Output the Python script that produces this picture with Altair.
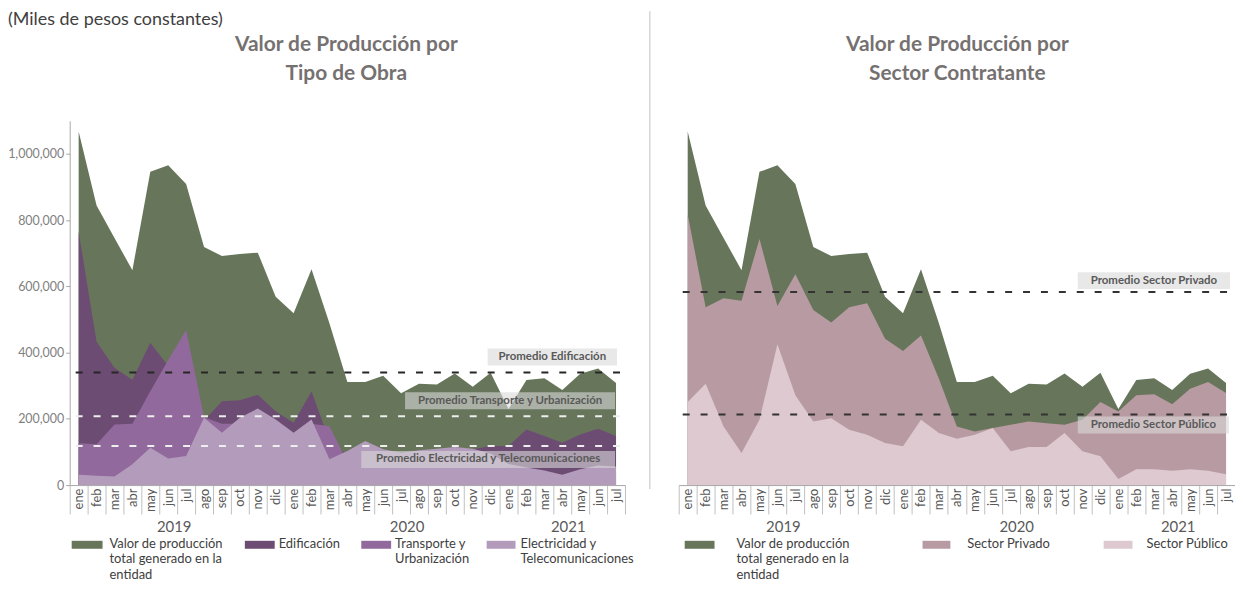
import altair as alt
import pandas as pd

# ---------------- data ----------------
meses = ["ene", "feb", "mar", "abr", "may", "jun", "jul", "ago", "sep", "oct", "nov", "dic"]
anios = ["2019", "2020", "2021"]
meses_por_anio = [12, 12, 7]
periodos = [f"{m} {a}" for a, n in zip(anios, meses_por_anio) for m in meses[:n]]
anclas_anio = ["jul 2019", "ago 2020", "may 2021"]

total = [1068000, 844000, 746000, 649000, 946000, 966000, 909000, 719000, 692000, 698000, 702000, 569000,
         519000, 652000, 489000, 311000, 311000, 330000, 277000, 306000, 304000, 337000, 297000, 339000,
         230000, 317000, 323000, 287000, 336000, 352000, 308000]
edificacion = [765000, 433000, 354000, 318000, 430000, 360000, 300000, 195000, 253000, 256000, 273000, 223000,
               188000, 283000, 132000, 90000, 95000, 95000, 95000, 100000, 105000, 112000, 108000, 118000,
               118000, 168000, 148000, 128000, 153000, 170000, 148000]
transporte = [126000, 123000, 183000, 185000, 283000, 378000, 468000, 205000, 185000, 185000, 215000, 170000,
              140000, 185000, 178000, 70000, 75000, 70000, 65000, 70000, 75000, 80000, 80000, 85000,
              50000, 40000, 35000, 22000, 30000, 40000, 38000]
electricidad = [31000, 28000, 26000, 63000, 113000, 80000, 88000, 203000, 158000, 203000, 231000, 198000,
                158000, 198000, 78000, 103000, 133000, 108000, 98000, 105000, 110000, 115000, 110000, 95000,
                64000, 53000, 44000, 31000, 48000, 59000, 56000]
privado = [817000, 537000, 564000, 557000, 743000, 541000, 637000, 529000, 491000, 537000, 549000, 442000,
           405000, 452000, 321000, 177000, 162000, 172000, 182000, 192000, 187000, 182000, 197000, 251000,
           222000, 271000, 274000, 244000, 291000, 311000, 278000]
publico = [251000, 306000, 177000, 97000, 197000, 425000, 271000, 192000, 202000, 167000, 152000, 127000,
           117000, 197000, 157000, 140000, 152000, 172000, 102000, 115000, 115000, 157000, 102000, 87000,
           18000, 48000, 48000, 43000, 48000, 43000, 33000]

prom_edificacion = 340000
prom_transporte = 208000
prom_electricidad = 118000
prom_privado = 583000
prom_publico = 213000

df = pd.DataFrame({
    "periodo": periodos, "total": total, "edificacion": edificacion, "transporte": transporte,
    "electricidad": electricidad, "privado": privado, "publico": publico,
})
df_anios = pd.DataFrame({"anio": anios, "ancla": anclas_anio})
uno = pd.DataFrame({"k": [0]})

# ---------------- style ----------------
FONT = "Lato"
W, H = 1171, 366
RANGO_IZQ = [0, 558]
RANGO_DER = [612, 1171]

C_TOTAL = "#67765b"
C_EDIF = "#6d4c73"
C_TRANSP = "#92699c"
C_ELEC = "#b39cbb"
C_PRIV = "#b89ba2"
C_PUB = "#ddc9cf"

Y_SCALE = alt.Scale(domain=[0, 1100000], nice=False, zero=True)

eje_x = alt.Axis(orient="bottom",
                 labelExpr="isValid(datum.value) ? substring(datum.value, 0, 3) : ''",
                 labelAngle=270, labelFontSize=13, labelColor="#595959", labelFont=FONT,
                 labelPadding=-26, labelOverlap=False, tickBand="extent", tickSize=29,
                 tickColor="#bfbfbf", tickWidth=1, domainColor="#a6a6a6", domainWidth=1,
                 title=None, grid=False, zindex=1)
eje_y = alt.Axis(orient="left", values=[0, 200000, 400000, 600000, 800000, 1000000],
                 labelExpr="format(datum.value, ',')",
                 labelFontSize=12.5, labelColor="#808080", labelFont=FONT, labelPadding=2,
                 tickSize=4, tickColor="#a6a6a6", domainColor="#a6a6a6", grid=False, title=None, zindex=1)


def escala_x(rango):
    return alt.Scale(type="band", domain=periodos, range=rango, paddingInner=0, paddingOuter=0)


def area(campo, color, rango, ejex=None, ejey=None):
    y_kw = {"axis": ejey} if ejey is not None else {}
    return alt.Chart(df).mark_area(color=color, opacity=1, interpolate="linear").encode(
        x=alt.X("periodo:O", scale=escala_x(rango), axis=ejex, bandPosition=0.5, title=None),
        y=alt.Y(f"{campo}:Q", scale=Y_SCALE, title=None, **y_kw),
    )


def etiquetas_anio(rango):
    return alt.Chart(df_anios).mark_text(font=FONT, fontSize=15, color="#595959", align="center",
                                         baseline="middle", dx=-3).encode(
        x=alt.X("ancla:O", scale=escala_x(rango), axis=None, bandPosition=0, title=None),
        y=alt.value(408),
        text="anio:N",
    )


def linea_prom(valor, color, x1, x2):
    return alt.Chart(uno).mark_rule(color=color, strokeDash=[7, 11], strokeWidth=2).encode(
        x=alt.value(x1), x2=alt.value(x2), y=alt.YDatum(valor))


def caja_prom(valor, x1, x2, off1, off2):
    return alt.Chart(uno).mark_rect(color="#d9d9d9", opacity=0.6, yOffset=off1, y2Offset=off2).encode(
        x=alt.value(x1), x2=alt.value(x2), y=alt.YDatum(valor), y2=alt.Y2Datum(valor))


def texto_prom(valor, texto, xc, dy):
    return alt.Chart(uno).mark_text(text=texto, font=FONT, fontWeight="bold", fontSize=11.5,
                                    color="#595959", align="center", baseline="middle", dy=dy).encode(
        x=alt.value(xc), y=alt.YDatum(valor))


def texto(t, x, y, size, color, weight="normal", align="left", baseline="middle", line_h=15.6):
    return alt.Chart(uno).mark_text(text=t, font=FONT, fontSize=size, color=color, fontWeight=weight,
                                    align=align, baseline=baseline, lineBreak="\n",
                                    lineHeight=line_h).encode(x=alt.value(x), y=alt.value(y))


def muestra(color, x1, x2, yc=426):
    return alt.Chart(uno).mark_rect(color=color).encode(
        x=alt.value(x1), x2=alt.value(x2), y=alt.value(yc - 4), y2=alt.value(yc + 4))


LEG = "#404040"
LEG_Y = 419      # top of first legend line, plot coordinates
LEG_FS = 13

capas = [
    # left panel
    area("total", C_TOTAL, RANGO_IZQ, ejex=eje_x, ejey=eje_y),
    area("edificacion", C_EDIF, RANGO_IZQ),
    area("transporte", C_TRANSP, RANGO_IZQ),
    area("electricidad", C_ELEC, RANGO_IZQ),
    etiquetas_anio(RANGO_IZQ),
    # right panel
    area("total", C_TOTAL, RANGO_DER, ejex=eje_x),
    area("privado", C_PRIV, RANGO_DER),
    area("publico", C_PUB, RANGO_DER),
    etiquetas_anio(RANGO_DER),
    # averages
    linea_prom(prom_edificacion, "#262626", 6, 558),
    linea_prom(prom_transporte, "#eeeeee", 6, 558),
    linea_prom(prom_electricidad, "#eeeeee", 6, 558),
    linea_prom(prom_privado, "#333333", 616, 1171),
    linea_prom(prom_publico, "#333333", 616, 1171),
    caja_prom(prom_edificacion, 420, 550, -24, -7),
    caja_prom(prom_transporte, 337, 548, -24, -7),
    caja_prom(prom_electricidad, 293, 548, 5, 22),
    caja_prom(prom_privado, 1013, 1166, -20, -3),
    caja_prom(prom_publico, 1013, 1165, 2, 19),
    texto_prom(prom_edificacion, "Promedio Edificación", 485, -15.5),
    texto_prom(prom_transporte, "Promedio Transporte y Urbanización", 442.5, -15.5),
    texto_prom(prom_electricidad, "Promedio Electricidad y Telecomunicaciones", 420.5, 13.5),
    texto_prom(prom_privado, "Promedio Sector Privado", 1089.5, -11.5),
    texto_prom(prom_publico, "Promedio Sector Público", 1089, 10.5),
    # separator
    alt.Chart(uno).mark_rule(color="#bfbfbf", strokeWidth=1).encode(
        x=alt.value(583), y=alt.value(-110), y2=alt.value(370)),
    # header / titles
    texto("(Miles de pesos constantes)", -62, -96, 18, "#404040", baseline="alphabetic"),
    texto("Valor de Producción por", 278, -76, 21, "#767171", weight="bold", align="center"),
    texto("Tipo de Obra", 278, -47, 21, "#767171", weight="bold", align="center"),
    texto("Valor de Producción por", 892, -76, 21, "#767171", weight="bold", align="center"),
    texto("Sector Contratante", 892, -47, 21, "#767171", weight="bold", align="center"),
    # legend left
    muestra(C_TOTAL, 2, 33),
    texto("Valor de producción\ntotal generado en la\nentidad", 40, LEG_Y, LEG_FS, LEG, baseline="top"),
    muestra(C_EDIF, 176, 206),
    texto("Edificación", 210, LEG_Y, LEG_FS, LEG, baseline="top"),
    muestra(C_TRANSP, 293, 323),
    texto("Transporte y\nUrbanización", 327, LEG_Y, LEG_FS, LEG, baseline="top"),
    muestra(C_ELEC, 419, 448),
    texto("Electricidad y\nTelecomunicaciones", 453, LEG_Y, LEG_FS, LEG, baseline="top"),
    # legend right
    muestra(C_TOTAL, 618, 648),
    texto("Valor de producción\ntotal generado en la\nentidad", 670, LEG_Y, LEG_FS, LEG, baseline="top"),
    muestra(C_PRIV, 857, 885),
    texto("Sector Privado", 902, LEG_Y, LEG_FS, LEG, baseline="top"),
    muestra(C_PUB, 1039, 1068),
    texto("Sector Público", 1082, LEG_Y, LEG_FS, LEG, baseline="top"),
]

chart = (
    alt.layer(*capas)
    .resolve_scale(x="independent")
    .properties(width=W, height=H, autosize=alt.AutoSizeParams(type="none"),
                padding={"left": 62, "top": 112, "right": 0, "bottom": 98})
    .configure(font=FONT)
    .configure_view(stroke=None)
    .configure_axis(grid=False)
)

chart.save("out.html", embed_options={"renderer": "svg", "actions": False})
